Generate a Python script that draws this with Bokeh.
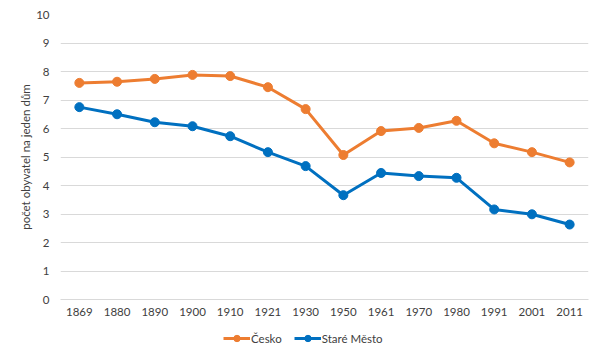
from bokeh.plotting import figure
from bokeh.layouts import column
from bokeh.models import FactorRange, Range1d, Legend, LegendItem, ColumnDataSource
from bokeh.embed import file_html
from bokeh.resources import INLINE

years = ["1869", "1880", "1890", "1900", "1910", "1921", "1930", "1950", "1961", "1970", "1980", "1991", "2001", "2011"]
cesko = [7.60, 7.64, 7.74, 7.88, 7.84, 7.45, 6.68, 5.07, 5.91, 6.02, 6.27, 5.48, 5.17, 4.81]
stare_mesto = [6.75, 6.50, 6.22, 6.08, 5.73, 5.17, 4.68, 3.66, 4.44, 4.33, 4.27, 3.16, 2.99, 2.63]
y_ticks = [0, 1, 2, 3, 4, 5, 6, 7, 8, 9, 10]
series_names = ["Česko", "Staré Město"]

FONT = "Lato"
TXT = "#404040"
orange = "#ED7D31"
blue = "#0070C0"

src = ColumnDataSource(dict(x=years, c=cesko, s=stare_mesto))

p = figure(frame_width=528, frame_height=285, x_range=FactorRange(*years, range_padding=0),
           y_range=Range1d(0, 10), output_backend="svg", toolbar_location=None)
p.min_border_left = 60
p.min_border_right = 2
p.min_border_top = 14
p.min_border_bottom = 22
p.outline_line_color = None
p.background_fill_color = "white"
p.border_fill_color = "white"

p.line("x", "c", source=src, line_color=orange, line_width=3)
p.scatter("x", "c", source=src, size=9, fill_color=orange, line_color=orange)
p.line("x", "s", source=src, line_color=blue, line_width=3)
p.scatter("x", "s", source=src, size=9, fill_color=blue, line_color=blue)

p.yaxis.ticker = y_ticks
p.yaxis.axis_line_color = None
p.yaxis.major_tick_line_color = None
p.yaxis.minor_tick_line_color = None
p.yaxis.major_tick_out = 0
p.yaxis.major_tick_in = 0
p.yaxis.major_label_text_font = FONT
p.yaxis.major_label_text_font_size = "11.5px"
p.yaxis.major_label_text_color = TXT
p.yaxis.major_label_standoff = 11
p.yaxis.axis_label = "počet obyvatel na jeden dům"
p.yaxis.axis_label_text_font = FONT
p.yaxis.axis_label_text_font_size = "11.5px"
p.yaxis.axis_label_text_font_style = "normal"
p.yaxis.axis_label_text_color = TXT
p.yaxis.axis_label_standoff = 1

p.xaxis.axis_line_color = "#d9d9d9"
p.xaxis.major_tick_line_color = None
p.xaxis.minor_tick_line_color = None
p.xaxis.major_tick_out = 0
p.xaxis.major_tick_in = 0
p.xaxis.major_label_text_font = FONT
p.xaxis.major_label_text_font_size = "11.5px"
p.xaxis.major_label_text_color = TXT
p.xaxis.major_label_standoff = 8

p.xgrid.grid_line_color = None
p.ygrid.grid_line_color = "#d9d9d9"
p.ygrid.grid_line_width = 1

# legend strip below the chart (series drawn out of view; only the legend shows)
q = figure(width=590, height=25, x_range=FactorRange(*years, range_padding=0),
           y_range=Range1d(100, 101), output_backend="svg", toolbar_location=None)
q.min_border_left = q.min_border_right = q.min_border_top = q.min_border_bottom = 0
q.axis.visible = False
q.grid.grid_line_color = None
q.outline_line_color = None
q.border_fill_color = "white"
lc = q.line("x", "c", source=src, line_color=orange, line_width=3)
mc = q.scatter("x", "c", source=src, size=9, fill_color=orange, line_color=orange)
ls = q.line("x", "s", source=src, line_color=blue, line_width=3)
ms = q.scatter("x", "s", source=src, size=9, fill_color=blue, line_color=blue)

legend = Legend(items=[LegendItem(label=series_names[0], renderers=[lc, mc]),
                       LegendItem(label=series_names[1], renderers=[ls, ms])],
                orientation="horizontal", location=(163, 0))
legend.label_text_font = FONT
legend.label_text_font_size = "11.5px"
legend.label_text_color = TXT
legend.border_line_color = None
legend.background_fill_alpha = 0
legend.glyph_width = 27
legend.glyph_height = 16
legend.label_standoff = 1
legend.label_height = 16
legend.spacing = 12
legend.padding = 0
legend.margin = 0
q.add_layout(legend, "center")

layout = column(p, q, spacing=0)
open("out.html", "w").write(file_html(layout, INLINE))
